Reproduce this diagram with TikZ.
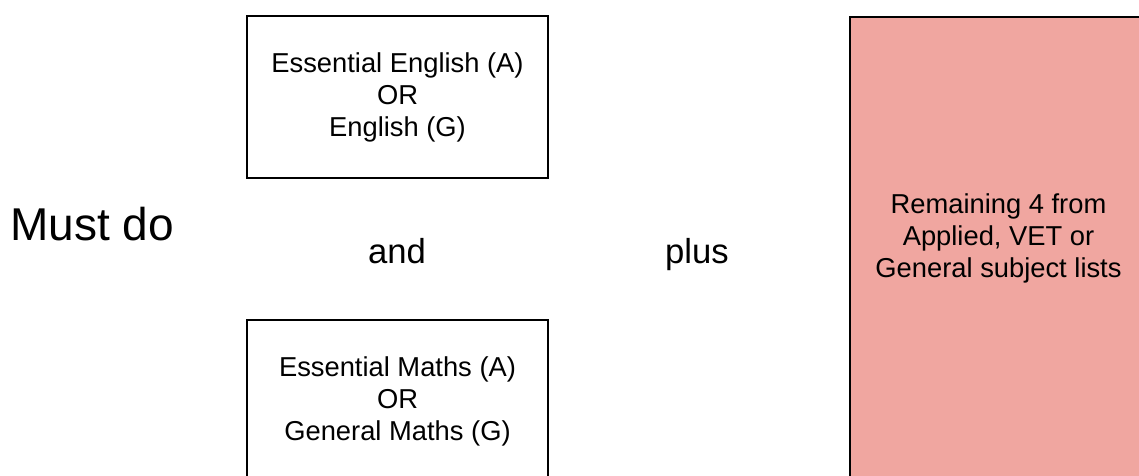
\documentclass[tikz,border=0pt]{standalone}
\usepackage{fontspec}
\setmainfont{Liberation Sans}
\definecolor{pinkfill}{HTML}{F0A6A0}
\begin{document}
\begin{tikzpicture}[x=0.75pt,y=-0.75pt,
  subjbox/.style={draw=black,line width=1.6pt,fill=white,minimum width=301*0.75pt,minimum height=162*0.75pt,inner sep=0pt,align=center,font=\fontsize{20.5}{24}\selectfont},
  bigtxt/.style={font=\fontsize{34.5}{40}\selectfont,inner sep=0pt},
  midtxt/.style={font=\fontsize{26}{30}\selectfont,inner sep=0pt},
  pinkbox/.style={draw=black,line width=1.6pt,fill=pinkfill,inner sep=0pt},
  pinktxt/.style={align=center,font=\fontsize{20.5}{24}\selectfont,inner sep=0pt}]
\clip (0,0) rectangle (1139,475);
\fill[white] (0,0) rectangle (1139,475);
\node[subjbox] (eng) at (397.5,97) {Essential English (A)\\OR\\English (G)};
\node[subjbox] (math) at (397.5,401) {Essential Maths (A)\\OR\\General Maths (G)};
\node[pinkbox,minimum width=300*0.75pt,minimum height=480*0.75pt,anchor=north west] (rest) at (849,16) {};
\node[pinktxt] (resttxt) at (998.5,238) {Remaining 4 from\\Applied, VET or\\General subject lists};
\node[bigtxt,anchor=base west] (must) at (10,240) {Must do};
\node[midtxt,anchor=base] (and) at (397,263) {and};
\node[midtxt,anchor=base] (plus) at (697,263) {plus};
\end{tikzpicture}
\end{document}
